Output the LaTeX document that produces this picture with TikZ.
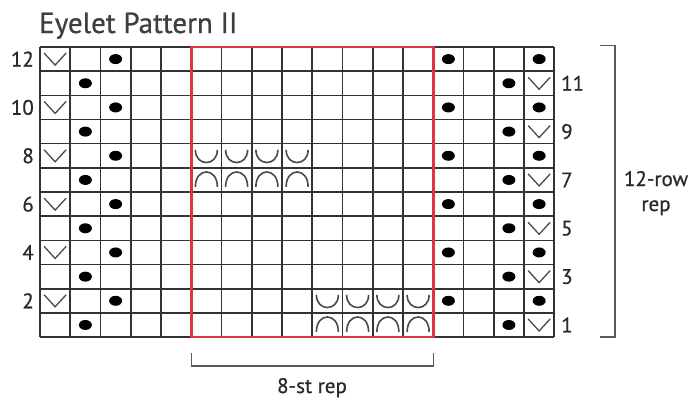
\documentclass[tikz,border=0pt]{standalone}
\usepackage{fontspec}
\setmainfont{PT Sans}
\newfontfamily\chartfont[FakeBold=0.7]{PT Sans}
\definecolor{ink}{HTML}{2A2A2A}
\definecolor{gridc}{HTML}{333333}
\definecolor{chartred}{HTML}{DC3540}
\definecolor{brk}{HTML}{5A5A5A}
\begin{document}
\begin{tikzpicture}[x=1pt,y=-1pt,
  gridline/.style={draw=gridc, line width=1.6pt},
  slipv/.style={draw=ink!85, line width=1.3pt},
  arcst/.style={draw=ink!85, line width=1.6pt},
  bracket/.style={draw=brk, line width=1.5pt},
  lbl/.style={text=ink, font=\chartfont\fontsize{21}{21}\selectfont, inner sep=0pt},
  ttl/.style={text=ink!90, font=\chartfont\fontsize{29}{29}\selectfont, inner sep=0pt}]
\useasboundingbox (0,0) rectangle (695,399);
\def\W{30.25}
\def\H{24.17}
% title
\node[ttl, anchor=base west] (title) at (39,33) {Eyelet Pattern II};
% grid
\foreach \i in {0,...,17} \draw[gridline] ({40+\i*\W},47) -- ({40+\i*\W},337.04);
\foreach \j in {0,...,12} \draw[gridline] (40,{47+\j*\H}) -- (554.25,{47+\j*\H});
% even rows
\foreach \r in {2,4,...,12} {
  \foreach \c in {3,14,17}
    \fill[black] ({40+(\c-0.5)*\W},{47+(12.5-\r)*\H}) ellipse (6.5 and 5);
  \draw[slipv] ({40+0.5*\W-11},{47+(12.5-\r)*\H-6}) -- ++(11,12) -- ++(11,-12);
  \node[lbl, anchor=east] (L\r) at (34,{47+(12.5-\r)*\H}) {\r};
}
% odd rows
\foreach \r in {1,3,...,11} {
  \foreach \c in {2,16}
    \fill[black] ({40+(\c-0.5)*\W},{47+(12.5-\r)*\H}) ellipse (6.5 and 5);
  \draw[slipv] ({40+16.5*\W-11},{47+(12.5-\r)*\H-6}) -- ++(11,12) -- ++(11,-12);
  \node[lbl, anchor=west] (R\r) at (561,{47+(12.5-\r)*\H}) {\r};
}
% cups and caps
\foreach \c/\r in {6/8,7/8,8/8,9/8,10/2,11/2,12/2,13/2} {
  \draw[arcst] ({40+(\c-0.5)*\W-11},{47+(12.5-\r)*\H-6})
    .. controls ++(0,17) and ++(0,17) .. ++(22,0);
}
\foreach \c/\r in {6/7,7/7,8/7,9/7,10/1,11/1,12/1,13/1} {
  \draw[arcst] ({40+(\c-0.5)*\W-11},{47+(12.5-\r)*\H+7})
    .. controls ++(0,-20) and ++(0,-20) .. ++(22,0);
}
% repeat box
\draw[chartred, line width=2.8pt] (191.25,47) rectangle (433.25,337.04);
% brackets
\draw[bracket] (600,45.5) -- (615,45.5) -- (615,337) -- (600,337);
\node[lbl, anchor=base] (rowrep1) at (656,186) {12-row};
\node[lbl, anchor=base] (rowrep2) at (656,211) {rep};
\draw[bracket] (191.25,353) -- (191.25,366) -- (433.25,366) -- (433.25,353);
\node[lbl, anchor=base] (strep) at (312,393) {8-st rep};
\end{tikzpicture}
\end{document}
